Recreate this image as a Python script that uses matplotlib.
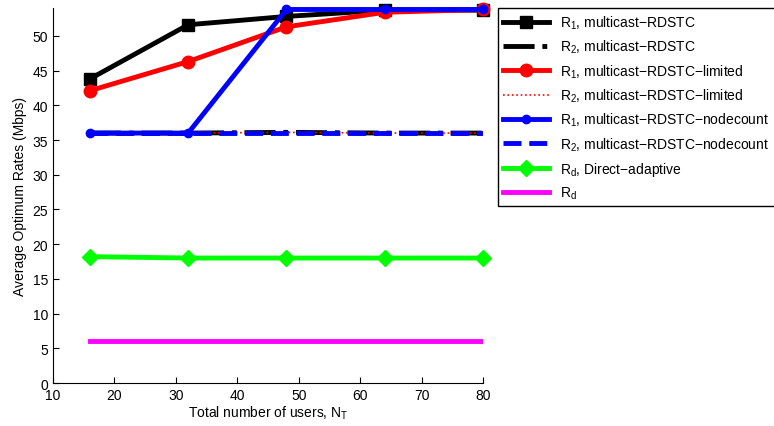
import matplotlib.pyplot as plt
import numpy as np

plt.rcParams['font.family'] = ['Liberation Sans', 'DejaVu Sans']
plt.rcParams['mathtext.fontset'] = 'custom'
plt.rcParams['mathtext.rm'] = 'Liberation Sans'
plt.rcParams['mathtext.it'] = 'Liberation Sans'

# numero total de usuarios
users = [16, 32, 48, 64, 80]

r1_rdstc = [43.8, 51.6, 52.8, 53.7, 53.7]
r2_rdstc = [36.0, 36.0, 36.1, 36.0, 36.0]
r1_limited = [42.1, 46.3, 51.3, 53.4, 53.8]
r2_limited = [36.0, 36.0, 36.1, 36.0, 36.0]
r1_nodecount = [36.0, 36.0, 53.8, 53.8, 53.8]
r2_nodecount = [36.0, 36.0, 36.0, 36.0, 36.0]
rd_direct = [18.2, 18.0, 18.0, 18.0, 18.0]
rd = [6.0, 6.0, 6.0, 6.0, 6.0]

fig = plt.figure(figsize=(7.74, 4.27), dpi=100)
ax = fig.add_axes([0.0685, 0.1007, 0.5556, 0.878])

lw = 3.5
ax.plot(users, r1_rdstc, color='k', lw=lw, marker='s', ms=8, clip_on=False, label=r'$R_1$, multicast−RDSTC')
ax.plot(users, r2_rdstc, color='k', lw=lw, ls='-.', label=r'$R_2$, multicast−RDSTC')
ax.plot(users, r1_limited, color='r', lw=lw, marker='o', ms=9, clip_on=False, label=r'$R_1$, multicast−RDSTC−limited')
ax.plot(users, r2_limited, color='r', lw=1.2, ls=':', label=r'$R_2$, multicast−RDSTC−limited')
ax.plot(users, r1_nodecount, color='b', lw=lw, marker='o', ms=6, clip_on=False, label=r'$R_1$, multicast−RDSTC−nodecount')
ax.plot(users, r2_nodecount, color='b', lw=lw, ls='--', label=r'$R_2$, multicast−RDSTC−nodecount')
ax.plot(users, rd_direct, color='#00ff00', lw=lw, marker='D', ms=8, clip_on=False, label=r'$R_d$, Direct−adaptive')
ax.plot(users, rd, color='#ff00ff', lw=lw, label=r'$R_d$')

ax.set_xlim(10, 80)
ax.set_ylim(0, 54)
ax.set_xticks(np.arange(10, 81, 10))
ax.set_yticks(np.arange(0, 51, 5))
ax.tick_params(direction='in', labelsize=10, length=4)
ax.spines['top'].set_visible(False)
ax.spines['right'].set_visible(False)
ax.set_xlabel(r'Total number of users, $N_T$', fontsize=10, labelpad=1)
ax.set_ylabel('Average Optimum Rates (Mbps)', fontsize=10)

leg = fig.legend(loc='upper left', bbox_to_anchor=(0.643, 0.979), fontsize=10,
                 fancybox=False, edgecolor='k', framealpha=1, handlelength=3.3,
                 labelspacing=0.5, borderaxespad=0)
leg.get_frame().set_linewidth(1.0)

fig.savefig('out.png', dpi=100)
